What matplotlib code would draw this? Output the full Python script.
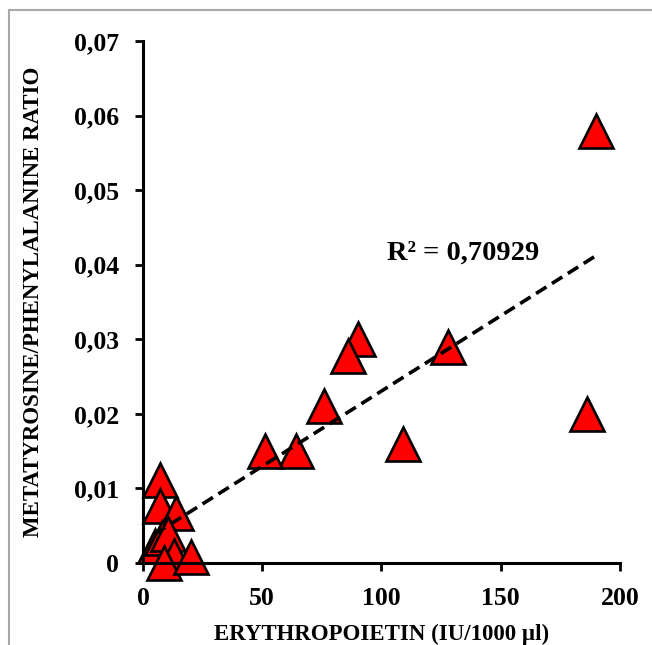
import numpy as np
import matplotlib
matplotlib.use("Agg")
import matplotlib.pyplot as plt
from matplotlib.lines import Line2D

# erythropoietin (IU/1000 ul) vs metatyrosine/phenylalanine ratio
epo = [190, 186, 128, 109, 90, 86, 76, 64, 51,
       7, 7, 14, 5, 8, 10.5, 13, 8.8, 20]
ratio = [0.058, 0.020, 0.029, 0.016, 0.030, 0.0278, 0.021, 0.015, 0.015,
         0.0111, 0.0076, 0.0067, 0.0023, 0.0034, 0.0039, 0.0009, 0.0, 0.0008]

x_ticks = [0, 50, 100, 150, 200]
x_ticklabels = ["0", "50", "100", "150", "200"]
y_ticks = [0, 0.01, 0.02, 0.03, 0.04, 0.05, 0.06, 0.07]
y_ticklabels = ["0", "0,01", "0,02", "0,03", "0,04", "0,05", "0,06", "0,07"]
r2_label = "R² = 0,70929"

plt.rcParams['font.family'] = ['Liberation Serif', 'DejaVu Serif']
plt.rcParams['font.weight'] = 'bold'

fig = plt.figure(figsize=(6.52, 6.45), dpi=100)
ax = fig.add_axes([0.2193, 0.1271, 0.7316, 0.8093])

# linear trendline through the data
slope, intercept = np.polyfit(epo, ratio, 1)
xl = np.array([min(epo), max(epo)])

ax.plot(epo, ratio, linestyle='none', marker='^', markersize=24,
        markerfacecolor='#ff0000', markeredgecolor='black',
        markeredgewidth=1.9, clip_on=False, zorder=2)
ax.plot(xl, slope * xl + intercept, color='black', linewidth=2.6,
        dashes=(3.4, 1.8), zorder=3)

ax.text(102.5, 0.0416, r2_label, fontsize=20.5, fontweight='bold',
        ha='left', va='center')

ax.set_xlim(0, 200)
ax.set_ylim(0, 0.07)
ax.set_xticks(x_ticks)
ax.set_xticklabels(x_ticklabels)
ax.set_yticks(y_ticks)
ax.set_yticklabels(y_ticklabels)
ax.tick_params(labelsize=18.5, width=2, length=6, direction='out')
ax.tick_params(axis='x', pad=11)
ax.tick_params(axis='y', pad=11)

for side in ['top', 'right']:
    ax.spines[side].set_visible(False)
for side in ['left', 'bottom']:
    ax.spines[side].set_linewidth(2.2)

ax.set_xlabel("ERYTHROPOIETIN (IU/1000 µl)", fontsize=16.5, fontweight='bold')
ax.set_ylabel("METATYROSINE/PHENYLALANINE RATIO", fontsize=16.5, fontweight='bold')
ax.xaxis.set_label_coords(0.5, -0.117)
ax.yaxis.set_label_coords(-0.207, 0.5)

# thin grey frame visible at top and left of the original image
fig.add_artist(Line2D([9/652, 1], [1 - 10/645, 1 - 10/645], color='#a8a8a8', linewidth=1.5))
fig.add_artist(Line2D([9/652, 9/652], [0, 1 - 10/645], color='#a8a8a8', linewidth=1.5))

fig.savefig("out.png", dpi=100)
